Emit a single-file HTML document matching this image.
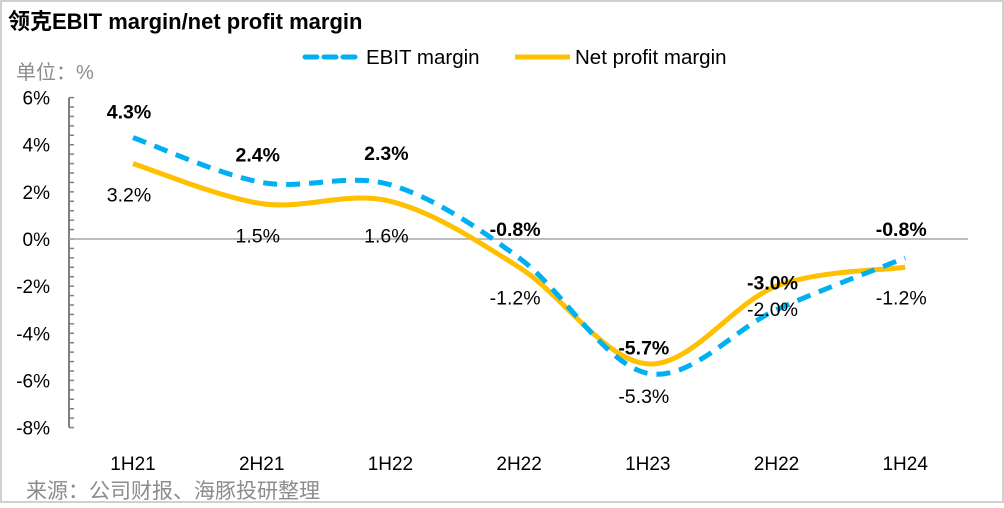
<!DOCTYPE html>
<html><head><meta charset="utf-8"><style>
body{margin:0;background:#fff;}
svg text{font-family:"Liberation Sans","Noto Sans CJK SC",sans-serif;}
</style></head><body>
<svg id="c" width="1004" height="503" viewBox="0 0 1004 503" xmlns="http://www.w3.org/2000/svg">
<rect x="1" y="1" width="1002" height="501" fill="#fff" stroke="#d0d0d0" stroke-width="2"/>
<text x="8" y="29" font-size="22" font-weight="bold" fill="#000">领克EBIT margin/net profit margin</text>
<g>
<line x1="305" y1="57" x2="360" y2="57" stroke="#00b0f0" stroke-width="5" stroke-dasharray="12,7" stroke-linecap="round"/>
<text x="366" y="64" font-size="20.5">EBIT margin</text>
<line x1="515" y1="57" x2="570" y2="57" stroke="#ffc000" stroke-width="5"/>
<text x="575" y="64" font-size="20.5">Net profit margin</text>
</g>
<text x="16" y="79" font-size="20" fill="#8c8c8c">单位：%</text>
<text x="26" y="498" font-size="21" fill="#8c8c8c">来源：公司财报、海豚投研整理</text>
<g id="plot"></g>
</svg>
<script>
const categories=["1H21","2H21","1H22","2H22","1H23","2H22","1H24"];
const ebit=[4.3,2.4,2.3,-0.8,-5.7,-3.0,-0.8];
const net=[3.2,1.5,1.6,-1.2,-5.3,-2.0,-1.2];
const yTicks=[6,4,2,0,-2,-4,-6,-8];
const NS="http://www.w3.org/2000/svg";
const g=document.getElementById('plot');
const x=i=>133+i*128.7;
const y=v=>239-v*23.57;
function el(t,a){const e=document.createElementNS(NS,t);for(const k in a)e.setAttribute(k,a[k]);g.appendChild(e);return e;}
let ax=el('line',{x1:69,y1:y(6),x2:69,y2:y(-8),stroke:'#7f7f7f','stroke-width':2});


for(let v=-8;v<=6.001;v+=0.4){let t=el('line',{x1:69,x2:74,y1:y(v),y2:y(v),stroke:'#7f7f7f','stroke-width':1.5});

}
let z=el('line',{x1:69,x2:968,y1:y(0),y2:y(0),stroke:'#a6a6a6','stroke-width':1.5});


yTicks.forEach(v=>{let t=el('text',{x:50,y:y(v)+7,'font-size':19,'text-anchor':'end'});t.textContent=v+'%';

});
categories.forEach((c,i)=>{let t=el('text',{x:x(i),y:470,'font-size':19,'text-anchor':'middle'});t.textContent=c;

});
function path(d){const p=d.map((v,i)=>[x(i),y(v)]);let s='M'+p[0];for(let i=0;i<p.length-1;i++){const p0=p[i-1]||p[i],p1=p[i],p2=p[i+1],p3=p[i+2]||p2;const k=6;s+=' C'+(p1[0]+(p2[0]-p0[0])/k)+','+(p1[1]+(p2[1]-p0[1])/k)+' '+(p2[0]-(p3[0]-p1[0])/k)+','+(p2[1]-(p3[1]-p1[1])/k)+' '+p2;}return s;}
let ln=el('path',{d:path(net),fill:'none',stroke:'#ffc000','stroke-width':5});


let le=el('path',{d:path(ebit),fill:'none',stroke:'#00b0f0','stroke-width':5,'stroke-dasharray':'14,9'});


const ebitOff=[-19,-21,-25,-22,-19,-20,-22], netOff=[38,39,41,37,39,30,37];
ebit.forEach((v,i)=>{let t=el('text',{x:x(i)-4,y:y(v)+ebitOff[i],'font-size':19.5,'font-weight':'bold','text-anchor':'middle'});t.textContent=v.toFixed(1)+'%';

});
net.forEach((v,i)=>{let t=el('text',{x:x(i)-4,y:y(v)+netOff[i],'font-size':19.5,'text-anchor':'middle'});t.textContent=v.toFixed(1)+'%';

});
</script>
</body></html>
